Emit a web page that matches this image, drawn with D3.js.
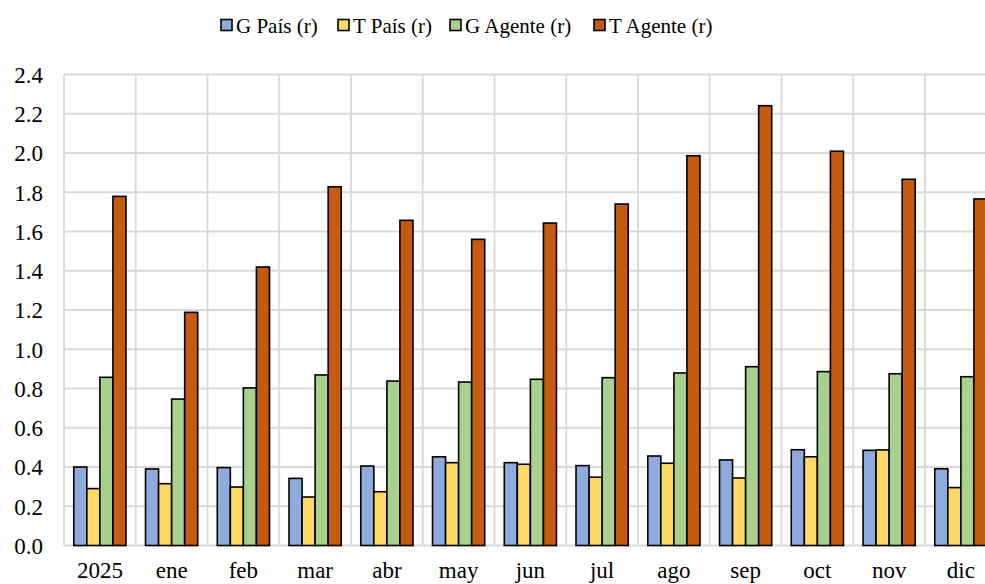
<!DOCTYPE html>
<html>
<head>
<meta charset="utf-8">
<script src="https://cdn.jsdelivr.net/npm/d3@7"></script>
<style>
  html, body { margin: 0; padding: 0; background: #fff; overflow: hidden; }
  svg { display: block; font-family: "Liberation Serif", "Times New Roman", serif; }
</style>
</head>
<body>
<svg id="chart" width="985" height="584"></svg>
<script>
// Periods shown along the x axis
const categories = ["2025", "ene", "feb", "mar", "abr", "may", "jun", "jul", "ago", "sep", "oct", "nov", "dic"];

// Series names (legend order)
const seriesNames = ["G País (r)", "T País (r)", "G Agente (r)", "T Agente (r)"];

// Series values, one per period
const gPais   = [0.40, 0.39, 0.397, 0.342, 0.405, 0.452, 0.422, 0.407, 0.456, 0.436, 0.488, 0.485, 0.391];
const tPais   = [0.29, 0.315, 0.298, 0.247, 0.274, 0.422, 0.414, 0.348, 0.419, 0.344, 0.452, 0.487, 0.295];
const gAgente = [0.857, 0.746, 0.803, 0.869, 0.838, 0.833, 0.847, 0.855, 0.879, 0.911, 0.886, 0.875, 0.860];
const tAgente = [1.779, 1.188, 1.419, 1.828, 1.657, 1.560, 1.643, 1.740, 1.986, 2.241, 2.009, 1.866, 1.766];

// Y axis tick labels
const yTicks = [0, 0.2, 0.4, 0.6, 0.8, 1.0, 1.2, 1.4, 1.6, 1.8, 2.0, 2.2, 2.4];

const seriesValues = [gPais, tPais, gAgente, tAgente];
const colors = ["#8faadc", "#ffd966", "#a9d18e", "#c55a11"];
const fontFamily = "Liberation Serif, Times New Roman, serif";

const svg = d3.select("#chart");
const plot = { left: 64, top: 74.5, bottom: 545.5, step: 71.75 };
const plotRight = plot.left + plot.step * categories.length;

const x = d3.scaleBand()
  .domain(categories)
  .range([plot.left, plotRight])
  .paddingInner(0).paddingOuter(0);

const xs = d3.scaleBand()
  .domain(d3.range(seriesNames.length))
  .range([0, x.bandwidth()])
  .paddingInner(0).paddingOuter(0.75);

const y = d3.scaleLinear().domain([0, 2.4]).range([plot.bottom, plot.top]);

const gridColor = "#d9d9d9";

// Horizontal grid lines
svg.append("g").selectAll("line").data(yTicks).join("line")
  .attr("x1", plot.left).attr("x2", plotRight)
  .attr("y1", d => y(d)).attr("y2", d => y(d))
  .attr("stroke", gridColor).attr("stroke-width", 1.8);

// Vertical grid lines at category boundaries
const bounds = categories.map(c => x(c)).concat([plotRight]);
svg.append("g").selectAll("line").data(bounds).join("line")
  .attr("x1", d => d).attr("x2", d => d)
  .attr("y1", plot.top).attr("y2", plot.bottom)
  .attr("stroke", gridColor).attr("stroke-width", 1.8);

// Bars
const groups = svg.append("g").selectAll("g").data(categories).join("g")
  .attr("transform", c => `translate(${x(c)},0)`);

groups.selectAll("rect")
  .data((c, i) => seriesValues.map((vals, s) => ({ s, v: vals[i] })))
  .join("rect")
  .attr("x", d => xs(d.s))
  .attr("width", xs.bandwidth())
  .attr("y", d => y(d.v))
  .attr("height", d => y(0) - y(d.v))
  .attr("fill", d => colors[d.s])
  .attr("stroke", "#000")
  .attr("stroke-width", 1.6);

// Y axis labels
const yAxis = d3.axisLeft(y).tickValues(yTicks).tickFormat(d3.format(".1f")).tickSize(0).tickPadding(0);
const yg = svg.append("g").attr("transform", `translate(43,0)`).call(yAxis);
yg.attr("font-family", fontFamily);
yg.select(".domain").remove();
yg.selectAll("text").attr("font-size", 23).attr("fill", "#000").attr("dy", "0.34em");

// X axis labels
const xAxis = d3.axisBottom(x).tickSize(0).tickPadding(0);
const xg = svg.append("g").attr("transform", `translate(0,${plot.bottom})`).call(xAxis);
xg.attr("font-family", fontFamily);
xg.select(".domain").remove();
xg.selectAll("text").attr("font-size", 23).attr("fill", "#000")
  .attr("dy", null).attr("y", 32);

// Legend
const legendX = [221, 338, 450, 594];
const legend = svg.append("g").attr("font-family", fontFamily)
  .selectAll("g").data(seriesNames).join("g")
  .attr("transform", (d, i) => `translate(${legendX[i]},19.5)`);
legend.append("rect")
  .attr("width", 11).attr("height", 11)
  .attr("fill", (d, i) => colors[i])
  .attr("stroke", "#000").attr("stroke-width", 1.6);
legend.append("text")
  .attr("x", 15).attr("y", 13)
  .attr("font-size", 21).attr("fill", "#000")
  .text(d => d);
</script>
</body>
</html>
